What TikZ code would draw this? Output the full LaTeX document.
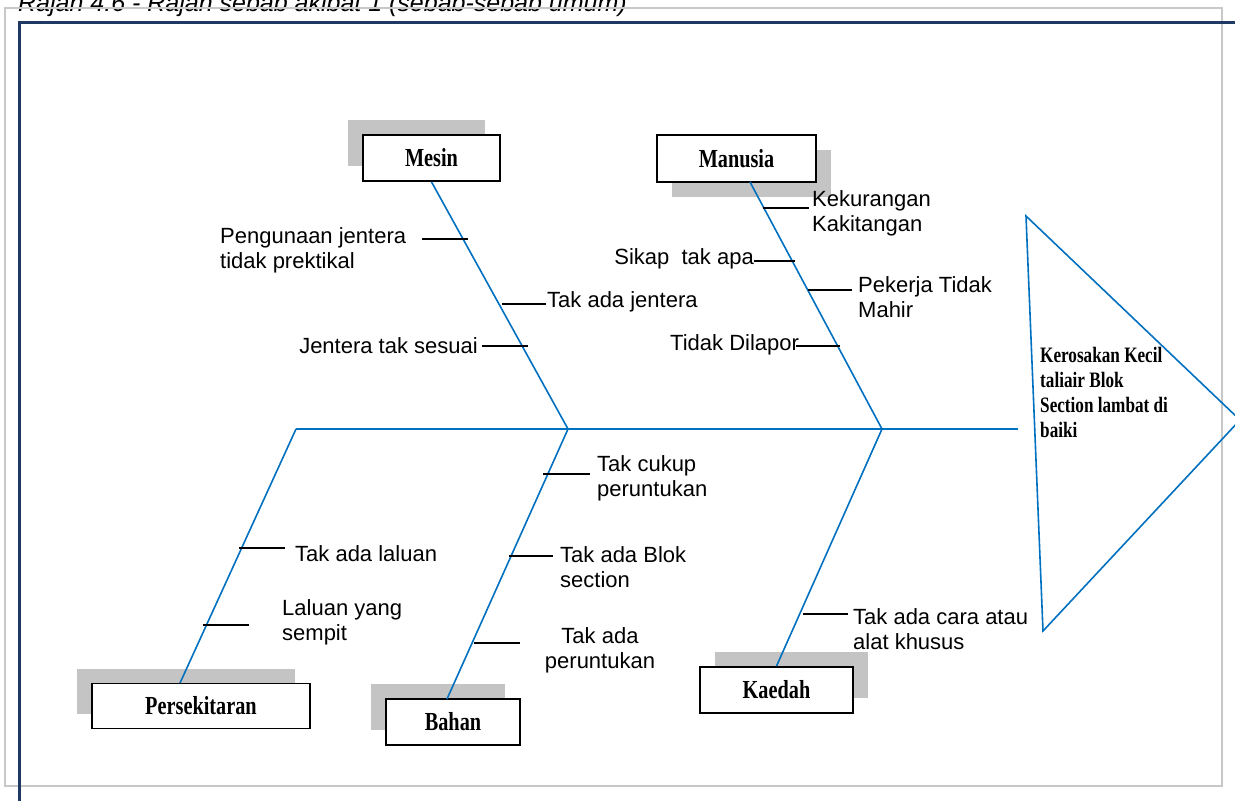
\documentclass[tikz,border=0pt]{standalone}
\usepackage{fontspec}
\newfontfamily\causefont{Liberation Sans}
\newfontfamily\boxfont[FakeStretch=0.78]{Liberation Serif}
\usetikzlibrary{shadows}
\definecolor{bonecol}{RGB}{0,112,192}
\definecolor{navy}{RGB}{31,56,100}
\definecolor{framegray}{RGB}{200,200,200}
\definecolor{shadegray}{RGB}{196,196,196}
\tikzset{
  bone/.style={draw=bonecol, line width=1.6pt},
  tick/.style={draw=black, line width=1.2pt},
  catbox/.style={draw=black, line width=1.8pt, fill=white, inner sep=0pt,
    font=\boxfont\bfseries\fontsize{26}{28}\selectfont},
  shade nw/.style={general shadow={fill=shadegray, shadow xshift=-15pt, shadow yshift=15pt}},
  shade ne/.style={general shadow={fill=shadegray, shadow xshift=15pt, shadow yshift=15pt}},
  shade se/.style={general shadow={fill=shadegray, shadow xshift=15pt, shadow yshift=-15pt}},
  cause/.style={font=\causefont\fontsize{22}{25.3}\selectfont, inner sep=0pt, align=left},
}
\begin{document}
\begin{tikzpicture}[x=1pt, y=-1pt]
  \useasboundingbox (0,0) rectangle (1235,801);
  \clip (0,0) rectangle (1235,801);
  % caption, cut at the top
  \node[anchor=base west, inner sep=0pt, font=\causefont\itshape\fontsize{25}{28}\selectfont] (caption) at (18,11)
    {Rajah 4.6 - Rajah sebab akibat 1 (sebab-sebab umum)};
  % frames
  \draw[framegray, line width=1.5pt] (5,8) rectangle (1222,786);
  \draw[navy, line width=3pt] (19,801) -- (19,22) -- (1235,22);
  % category boxes
  \node[catbox, shade nw, minimum width=137pt, minimum height=46pt] (mesin) at (431.5,158) {Mesin};
  \node[catbox, shade se, minimum width=159pt, minimum height=47pt] (manusia) at (736.5,158.5) {Manusia};
  \node[catbox, shade nw, minimum width=218pt, minimum height=45pt] (persekitaran) at (201,706) {Persekitaran};
  \node[catbox, shade nw, minimum width=134pt, minimum height=46pt] (bahan) at (453,722) {Bahan};
  \node[catbox, shade ne, minimum width=153pt, minimum height=46pt] (kaedah) at (776.5,690) {Kaedah};
  % spine and head
  \coordinate (j1) at (296,429);
  \coordinate (j2) at (568,429);
  \coordinate (j3) at (882,429);
  \coordinate (spineend) at (1018,429);
  \coordinate (tritop) at (1026,216);
  \coordinate (tritip) at (1240,420);
  \coordinate (tribot) at (1043,631);
  \draw[bone] (j1) -- (spineend);
  \draw[bone] (tritop) -- (tritip) -- (tribot) -- cycle;
  \node[anchor=north west, inner sep=0pt, align=left, font=\boxfont\bfseries\fontsize{22}{25}\selectfont] (effect) at (1040,347)
    {Kerosakan Kecil\\taliair Blok\\Section lambat di\\baiki};
  % bones
  \coordinate (mantop) at (750,182);
  \coordinate (perbot) at (180,683);
  \coordinate (bahbot) at (447,699);
  \draw[bone] (j2) -- (mesin.south);
  \draw[bone] (j3) -- (mantop);
  \draw[bone] (j1) -- (perbot);
  \draw[bone] (j2) -- (bahbot);
  \draw[bone] (j3) -- (kaedah.north);
  % small causes
  \foreach \xa/\xb/\yy in {422/468/239, 502/546/304, 482/528/346,
                           763/809/208, 754/795/261, 808/852/290, 796/840/346,
                           239/285/548, 203/249/625,
                           543/590/474, 509/553/556, 474/520/643,
                           803/848/614}
    \draw[tick] (\xa,\yy) -- (\xb,\yy);
  \node[cause, anchor=west] (pengunaan) at (220,250) {Pengunaan jentera\\tidak prektikal};
  \node[cause, anchor=west] (tiadajentera) at (547,302) {Tak ada jentera};
  \node[cause, anchor=east] (sesuai) at (478,346) {Jentera tak sesuai};
  \node[cause, anchor=west] (kekurangan) at (812,213) {Kekurangan\\Kakitangan};
  \node[cause, anchor=east] (sikap) at (754,259) {Sikap~ tak apa};
  \node[cause, anchor=west] (pekerja) at (858,297) {Pekerja Tidak\\Mahir};
  \node[cause, anchor=west] (dilapor) at (670,345) {Tidak Dilapor};
  \node[cause, anchor=west] (laluan) at (295,554) {Tak ada laluan};
  \node[cause, anchor=west] (sempit) at (282,622) {Laluan yang\\sempit};
  \node[cause, anchor=west] (takcukup) at (597,478) {Tak cukup\\peruntukan};
  \node[cause, anchor=west] (blok) at (560,567) {Tak ada Blok\\section};
  \node[cause, align=center] (tiada) at (600,650) {Tak ada\\peruntukan};
  \node[cause, anchor=west] (cara) at (853,629) {Tak ada cara atau\\alat khusus};
\end{tikzpicture}
\end{document}
